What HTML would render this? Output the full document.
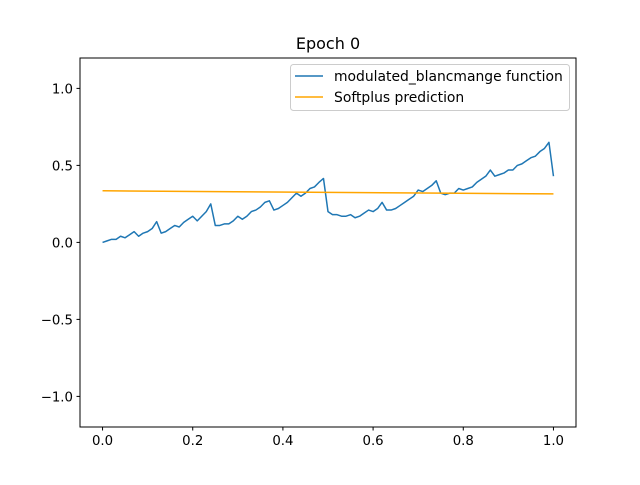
<!DOCTYPE html>
<html><head><meta charset="utf-8"><style>
body{margin:0;background:#fff}
svg text{font-family:"DejaVu Sans","Liberation Sans",sans-serif;fill:#000}
</style></head><body>
<svg id="chart" width="640" height="480" xmlns="http://www.w3.org/2000/svg">
<rect width="640" height="480" fill="#fff"/>
<text x="328" y="49" font-size="16" text-anchor="middle">Epoch 0</text>
<g id="ticks"></g>
<g id="series"></g>
<rect x="80" y="58" width="496" height="369" fill="none" stroke="#000" stroke-width="1"/>
<g>
<rect x="290.5" y="64.5" width="279" height="46" rx="3" fill="#fff" fill-opacity="0.8" stroke="#ccc"/>
<line x1="295" y1="76" x2="323" y2="76" stroke="#1f77b4" stroke-width="1.5"/>
<text x="334" y="81" font-size="13.9">modulated_blancmange function</text>
<line x1="295" y1="97" x2="323" y2="97" stroke="orange" stroke-width="1.5"/>
<text x="334" y="102" font-size="13.9">Softplus prediction</text>
</g>
</svg>
<script>
const blancmange = [0.00,0.01,0.02,0.02,0.04,0.03,0.05,0.07,0.04,0.06,0.07,0.09,0.135,
0.06,0.07,0.09,0.11,0.10,0.13,0.15,0.17,0.14,0.17,0.20,0.25,
0.11,0.11,0.12,0.12,0.14,0.17,0.15,0.17,0.20,0.21,0.23,0.26,0.27,
0.21,0.22,0.24,0.26,0.29,0.32,0.30,0.32,0.35,0.36,0.39,0.415,
0.20,0.18,0.18,0.17,0.17,0.18,0.16,0.17,0.19,0.21,0.20,0.22,0.26,
0.21,0.21,0.22,0.24,0.26,0.28,0.30,0.34,0.33,0.35,0.37,0.40,
0.32,0.31,0.32,0.32,0.35,0.34,0.35,0.36,0.39,0.41,0.43,0.47,0.43,
0.44,0.45,0.47,0.47,0.50,0.51,0.53,0.55,0.56,0.59,0.61,0.65,0.43];
const predX = [0,0.25,0.5,0.75,1.0];
const predY = [0.335,0.330,0.325,0.320,0.315];
const xTicks = [0,0.2,0.4,0.6,0.8,1.0];
const xTickLabels = ["0.0","0.2","0.4","0.6","0.8","1.0"];
const yTicks = [-1,-0.5,0,0.5,1];
const yTickLabels = ["\u22121.0","\u22120.5","0.0","0.5","1.0"];
const X = v => 80 + (v + 0.05) / 1.1 * 496;
const Y = v => 427.2 - (v + 1.2) / 2.4 * 369.6;
const NS = "http://www.w3.org/2000/svg";
const tg = document.getElementById('ticks'), sg = document.getElementById('series');
function mk(tag, attrs, parent){const e=document.createElementNS(NS,tag);for(const k in attrs)e.setAttribute(k,attrs[k]);parent.appendChild(e);return e;}
xTicks.forEach((t,i)=>{
  const l=mk('line',{x1:X(t),x2:X(t),y1:427,y2:430.5,stroke:'#000'},tg);
  
  
  const tx=mk('text',{x:X(t),y:445,'font-size':13.3,'text-anchor':'middle'},tg);
  tx.textContent=xTickLabels[i];
  
  
});
yTicks.forEach((t,i)=>{
  const l=mk('line',{x1:76.5,x2:80,y1:Y(t),y2:Y(t),stroke:'#000'},tg);
  
  
  const tx=mk('text',{x:73,y:Y(t)+5,'font-size':13.3,'text-anchor':'end'},tg);
  tx.textContent=yTickLabels[i];
  
  
});
const n=blancmange.length;
const p1=mk('polyline',{points:blancmange.map((v,i)=>X(i/(n-1))+','+Y(v)).join(' '),fill:'none',stroke:'#1f77b4','stroke-width':1.5,'stroke-linejoin':'round'},sg);


const p2=mk('polyline',{points:predX.map((x,i)=>X(x)+','+Y(predY[i])).join(' '),fill:'none',stroke:'orange','stroke-width':1.5},sg);


</script>
</body></html>
